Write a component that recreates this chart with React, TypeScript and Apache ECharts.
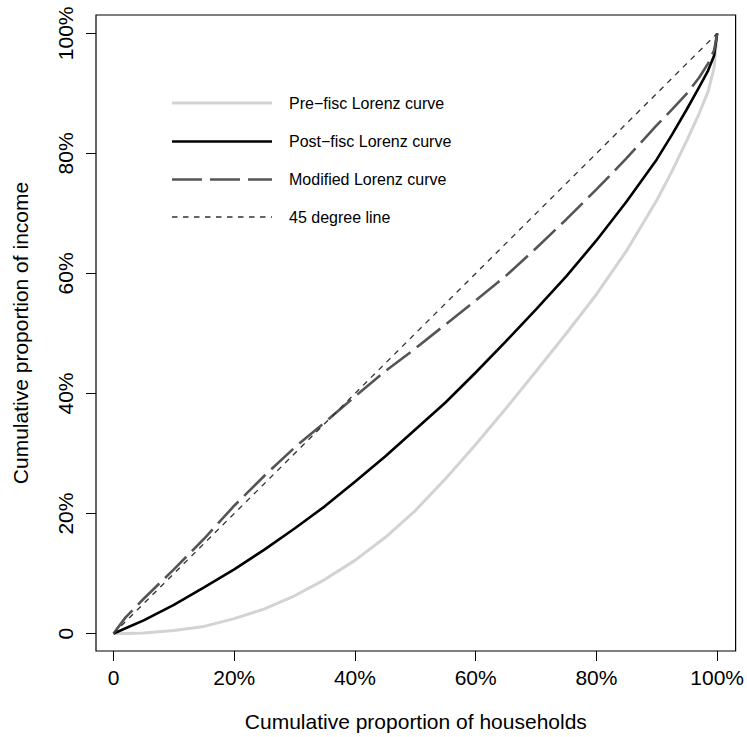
import React, { useEffect, useRef } from "react";
import * as echarts from "echarts";

const householdShare = [0, 0.02, 0.05, 0.1, 0.15, 0.2, 0.25, 0.3, 0.35, 0.4, 0.45, 0.5, 0.55, 0.6, 0.65, 0.7, 0.75, 0.8, 0.85, 0.9, 0.925, 0.95, 0.97, 0.985, 0.995, 1];
const preFisc = [0, 0.0003, 0.001, 0.005, 0.012, 0.025, 0.041, 0.063, 0.09, 0.122, 0.16, 0.205, 0.258, 0.315, 0.375, 0.437, 0.5, 0.565, 0.638, 0.722, 0.77, 0.822, 0.866, 0.903, 0.943, 1];
const postFisc = [0, 0.009, 0.022, 0.048, 0.077, 0.107, 0.14, 0.175, 0.212, 0.253, 0.295, 0.34, 0.385, 0.435, 0.487, 0.54, 0.595, 0.655, 0.72, 0.79, 0.831, 0.874, 0.91, 0.938, 0.963, 1];
const modified = [0, 0.027, 0.058, 0.107, 0.158, 0.213, 0.263, 0.31, 0.352, 0.395, 0.437, 0.475, 0.515, 0.555, 0.596, 0.642, 0.69, 0.74, 0.792, 0.847, 0.873, 0.9, 0.926, 0.95, 0.972, 1];
const diagonalX = [0, 1];
const diagonalY = [0, 1];
const tickValues = [0, 0.2, 0.4, 0.6, 0.8, 1];
const legendLabels = ["Pre\u2212fisc Lorenz curve", "Post\u2212fisc Lorenz curve", "Modified Lorenz curve", "45 degree line"];

const FONT = '"Liberation Sans", Arial, Helvetica, sans-serif';
const fmt = (v: number) => (Math.abs(v) < 1e-9 ? "0" : Math.round(v * 100) + "%");

const styles = [
  { color: "#d3d3d3", width: 3, dash: "solid" as any },
  { color: "#000000", width: 2.6, dash: "solid" as any },
  { color: "#555555", width: 2.6, dash: [30, 8] as any },
  { color: "#333333", width: 1.3, dash: [5.5, 5.5] as any },
];

export default function App() {
  const ref = useRef<HTMLDivElement>(null);
  useEffect(() => {
    if (!ref.current) return;
    const chart = echarts.init(ref.current, undefined, { renderer: "svg" });
    const pairs = (xs: number[], ys: number[]) => xs.map((x, i) => [x, ys[i]]);
    const seriesData = [
      pairs(householdShare, preFisc),
      pairs(householdShare, postFisc),
      pairs(householdShare, modified),
      pairs(diagonalX, diagonalY),
    ];
    const legendY = [103, 141.5, 179.5, 217];
    const graphic: any[] = [];
    legendLabels.forEach((lab, i) => {
      graphic.push({
        type: "line",
        shape: { x1: 172, y1: legendY[i], x2: 272, y2: legendY[i] },
        style: { stroke: styles[i].color, lineWidth: styles[i].width, lineDash: styles[i].dash === "solid" ? null : styles[i].dash },
      });
      graphic.push({
        type: "text",
        x: 289,
        y: legendY[i],
        style: { text: lab, fontSize: 16, fontFamily: FONT, fill: "#000", verticalAlign: "middle", align: "left" },
      });
    });
    const axisCommon = {
      type: "value" as const,
      min: -0.029,
      max: 1.0306,
      splitLine: { show: false },
      axisLine: { show: false, onZero: false },
      axisTick: { show: true, inside: false, length: 10, lineStyle: { color: "#000", width: 1 }, customValues: tickValues },
      nameLocation: "middle" as const,
      nameTextStyle: { fontSize: 21, fontFamily: FONT, color: "#000" },
    };
    chart.setOption({
      animation: false,
      backgroundColor: "#fff",
      grid: { left: 96, top: 15, right: 10, bottom: 82, show: true, borderColor: "#000", borderWidth: 1.2, backgroundColor: "transparent", containLabel: false },
      xAxis: {
        ...axisCommon,
        name: "Cumulative proportion of households",
        nameGap: 60,
        axisLabel: { customValues: tickValues, formatter: fmt, fontSize: 21, fontFamily: FONT, color: "#000", margin: 16 },
      },
      yAxis: {
        ...axisCommon,
        name: "Cumulative proportion of income",
        nameGap: 65,
        axisLabel: { customValues: tickValues, formatter: fmt, fontSize: 21, fontFamily: FONT, color: "#000", margin: 20, rotate: 90 },
      },
      series: seriesData.map((d, i) => ({
        type: "line",
        data: d,
        showSymbol: false,
        symbol: "none",
        smooth: false,
        lineStyle: { color: styles[i].color, width: styles[i].width, type: styles[i].dash },
        z: 2 + i,
      })),
      graphic,
    });
    return () => chart.dispose();
  }, []);
  return <div ref={ref} style={{ position: "absolute", left: 0, top: 0, width: 747, height: 737 }} />;
}
